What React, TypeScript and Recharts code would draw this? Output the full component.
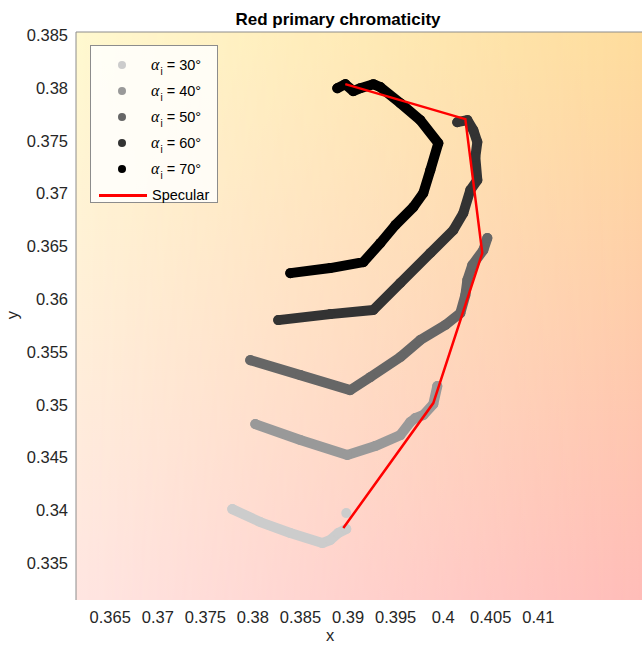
import { ScatterChart, Scatter, XAxis, YAxis, ReferenceArea } from "recharts";

// chromaticity coordinates
const a30 = [
  { x: 0.37783, y: 0.34011 },
  { x: 0.38077, y: 0.33888 },
  { x: 0.38393, y: 0.33784 },
  { x: 0.38729, y: 0.33689 },
  { x: 0.38813, y: 0.33718 },
  { x: 0.38897, y: 0.33784 },
  { x: 0.38981, y: 0.33822 },
];
const a30Stray = [{ x: 0.38981, y: 0.33973 }];

const a40 = [
  { x: 0.38025, y: 0.34816 },
  { x: 0.38498, y: 0.34665 },
  { x: 0.38992, y: 0.34523 },
  { x: 0.39286, y: 0.34608 },
  { x: 0.39549, y: 0.34712 },
  { x: 0.39654, y: 0.34835 },
  { x: 0.39707, y: 0.34873 },
  { x: 0.39791, y: 0.34902 },
  { x: 0.39896, y: 0.35006 },
  { x: 0.39938, y: 0.35176 },
];

const a50 = [
  { x: 0.37972, y: 0.35422 },
  { x: 0.38498, y: 0.3528 },
  { x: 0.39023, y: 0.35138 },
  { x: 0.39234, y: 0.35261 },
  { x: 0.39549, y: 0.35451 },
  { x: 0.39759, y: 0.35612 },
  { x: 0.40022, y: 0.35754 },
  { x: 0.4018, y: 0.35867 },
  { x: 0.40233, y: 0.36038 },
  { x: 0.40254, y: 0.3618 },
  { x: 0.40306, y: 0.36322 },
  { x: 0.40422, y: 0.36464 },
  { x: 0.40464, y: 0.36578 },
];

const a60 = [
  { x: 0.38266, y: 0.35801 },
  { x: 0.38813, y: 0.35858 },
  { x: 0.39265, y: 0.35896 },
  { x: 0.39549, y: 0.36152 },
  { x: 0.39865, y: 0.36436 },
  { x: 0.40106, y: 0.36653 },
  { x: 0.40211, y: 0.36814 },
  { x: 0.40285, y: 0.37032 },
  { x: 0.40359, y: 0.37127 },
  { x: 0.40338, y: 0.37345 },
  { x: 0.40359, y: 0.37487 },
  { x: 0.40317, y: 0.376 },
  { x: 0.40254, y: 0.37695 },
  { x: 0.40148, y: 0.37676 },
];

const a70 = [
  { x: 0.38887, y: 0.37998 },
  { x: 0.38971, y: 0.38036 },
  { x: 0.39055, y: 0.3797 },
  { x: 0.39129, y: 0.37998 },
  { x: 0.39265, y: 0.38036 },
  { x: 0.39339, y: 0.38008 },
  { x: 0.39549, y: 0.37856 },
  { x: 0.39759, y: 0.37695 },
  { x: 0.39949, y: 0.37477 },
  { x: 0.39865, y: 0.37222 },
  { x: 0.39791, y: 0.37004 },
  { x: 0.39686, y: 0.36871 },
  { x: 0.39497, y: 0.36701 },
  { x: 0.39339, y: 0.3653 },
  { x: 0.3916, y: 0.3635 },
  { x: 0.38813, y: 0.36294 },
  { x: 0.38393, y: 0.36246 },
];

const specular = [
  { x: 0.38971, y: 0.38036 },
  { x: 0.40233, y: 0.37705 },
  { x: 0.40411, y: 0.36436 },
  { x: 0.39896, y: 0.35015 },
  { x: 0.3895, y: 0.33831 },
];

const angleLabels = ["30°", "40°", "50°", "60°", "70°"];
const angleColors = ["#cccccc", "#999999", "#666666", "#333333", "#000000"];
const angleSeries = [a30, a40, a50, a60, a70];

const xTicks = [0.365, 0.37, 0.375, 0.38, 0.385, 0.39, 0.395, 0.4, 0.405, 0.41];
const yTicks = [0.335, 0.34, 0.345, 0.35, 0.355, 0.36, 0.365, 0.37, 0.375, 0.38, 0.385];
const xDomain = [0.3614, 0.4209];
const yDomain = [0.3315, 0.3853];

const fmt = (v: number) => String(Number(v.toFixed(3)));
const font = "'Liberation Sans', Arial, sans-serif";

const Background = (props: any) => {
  const { x, y, width, height } = props;
  return (
    <g>
      <defs>
        <linearGradient id="bgLeft" x1="0" y1="0" x2="0" y2="1">
          <stop offset="0" stopColor="#fff9d0" />
          <stop offset="1" stopColor="#ffe6e2" />
        </linearGradient>
        <linearGradient id="bgRight" x1="0" y1="0" x2="0" y2="1">
          <stop offset="0" stopColor="#fedc9c" />
          <stop offset="1" stopColor="#ffbcb8" />
        </linearGradient>
        <linearGradient id="bgMaskGrad" x1="0" y1="0" x2="1" y2="0">
          <stop offset="0" stopColor="#000" />
          <stop offset="1" stopColor="#fff" />
        </linearGradient>
        <mask id="bgMask" maskUnits="userSpaceOnUse" x={x} y={y} width={width} height={height}>
          <rect x={x} y={y} width={width} height={height} fill="url(#bgMaskGrad)" />
        </mask>
      </defs>
      <rect x={x} y={y} width={width} height={height} fill="url(#bgLeft)" />
      <rect x={x} y={y} width={width} height={height} fill="url(#bgRight)" mask="url(#bgMask)" />
      <line x1={x} y1={y} x2={x + width} y2={y} stroke="#8c8c8c" strokeWidth={1} />
    </g>
  );
};

const dot = (color: string) => (p: any) => <circle cx={p.cx} cy={p.cy} r={5} fill={color} />;

export default function App() {
  return (
    <div style={{ position: "absolute", left: 0, top: 0, width: 642, height: 646, fontFamily: font, background: "#fff" }}>
      <ScatterChart width={642} height={646} margin={{ top: 32, right: 0, bottom: 0, left: 0 }}>
        <XAxis
          type="number"
          dataKey="x"
          domain={xDomain}
          ticks={xTicks}
          tickFormatter={fmt}
          allowDataOverflow
          height={46}
          axisLine={false}
          tickLine={false}
          tickSize={0}
          tickMargin={11}
          tick={{ fill: "#262626", fontSize: 16.5, fontFamily: font }}
        />
        <YAxis
          type="number"
          dataKey="y"
          domain={yDomain}
          ticks={yTicks}
          tickFormatter={fmt}
          allowDataOverflow
          width={76}
          axisLine={{ stroke: "#8c8c8c" }}
          tickLine={false}
          tickSize={0}
          tickMargin={8}
          tick={{ fill: "#262626", fontSize: 16.5, fontFamily: font }}
        />
        <ReferenceArea x1={xDomain[0]} x2={xDomain[1]} y1={yDomain[0]} y2={yDomain[1]} shape={Background} />
        {angleSeries.map((d, i) => (
          <Scatter
            key={angleLabels[i]}
            data={d}
            fill={angleColors[i]}
            line={{ stroke: angleColors[i], strokeWidth: 10, strokeLinejoin: "round", strokeLinecap: "round" }}
            shape={dot(angleColors[i])}
            isAnimationActive={false}
          />
        ))}
        <Scatter data={a30Stray} fill={angleColors[0]} shape={dot(angleColors[0])} isAnimationActive={false} />
        <Scatter
          data={specular}
          fill="#ff0000"
          line={{ stroke: "#ff0000", strokeWidth: 2.5 }}
          shape={() => <g />}
          isAnimationActive={false}
        />
      </ScatterChart>

      <div style={{ position: "absolute", left: 338, top: 10, transform: "translateX(-50%)", fontWeight: "bold", fontSize: 17, whiteSpace: "nowrap" }}>
        Red primary chromaticity
      </div>
      <div style={{ position: "absolute", left: 330, top: 627, height: 17, lineHeight: "17px", transform: "translateX(-50%)", fontSize: 16.5, color: "#262626" }}>x</div>
      <div style={{ position: "absolute", left: 12, top: 315, transform: "translate(-50%, -50%) rotate(-90deg)", fontSize: 16.5, color: "#262626" }}>y</div>

      <div
        style={{
          position: "absolute",
          left: 90,
          top: 45,
          width: 128,
          height: 158,
          boxSizing: "border-box",
          border: "1px solid #8c8c8c",
          background: "rgba(255,255,255,0.82)",
          fontSize: 14.5,
          color: "#000",
        }}
      >
        {angleLabels.map((lab, i) => (
          <div key={lab} style={{ position: "absolute", left: 0, top: 19 + i * 26 - 10, height: 20, width: 126 }}>
            <span style={{ position: "absolute", left: 27, top: 6, width: 8, height: 8, borderRadius: 4, background: angleColors[i] }} />
            <span style={{ position: "absolute", left: 60, top: 0, whiteSpace: "nowrap", lineHeight: "20px" }}>
              <span style={{ fontFamily: "'Liberation Serif', serif", fontStyle: "italic", fontSize: 16 }}>α</span>
              <span style={{ fontSize: 10, position: "relative", top: 5, marginLeft: 1 }}>i</span>
              {" = " + lab}
            </span>
          </div>
        ))}
        <div style={{ position: "absolute", left: 0, top: 139, height: 20, width: 126 }}>
          <span style={{ position: "absolute", left: 8, top: 9, width: 48, height: 2.5, background: "#ff0000" }} />
          <span style={{ position: "absolute", left: 61, top: 0, lineHeight: "20px" }}>Specular</span>
        </div>
      </div>
    </div>
  );
}
